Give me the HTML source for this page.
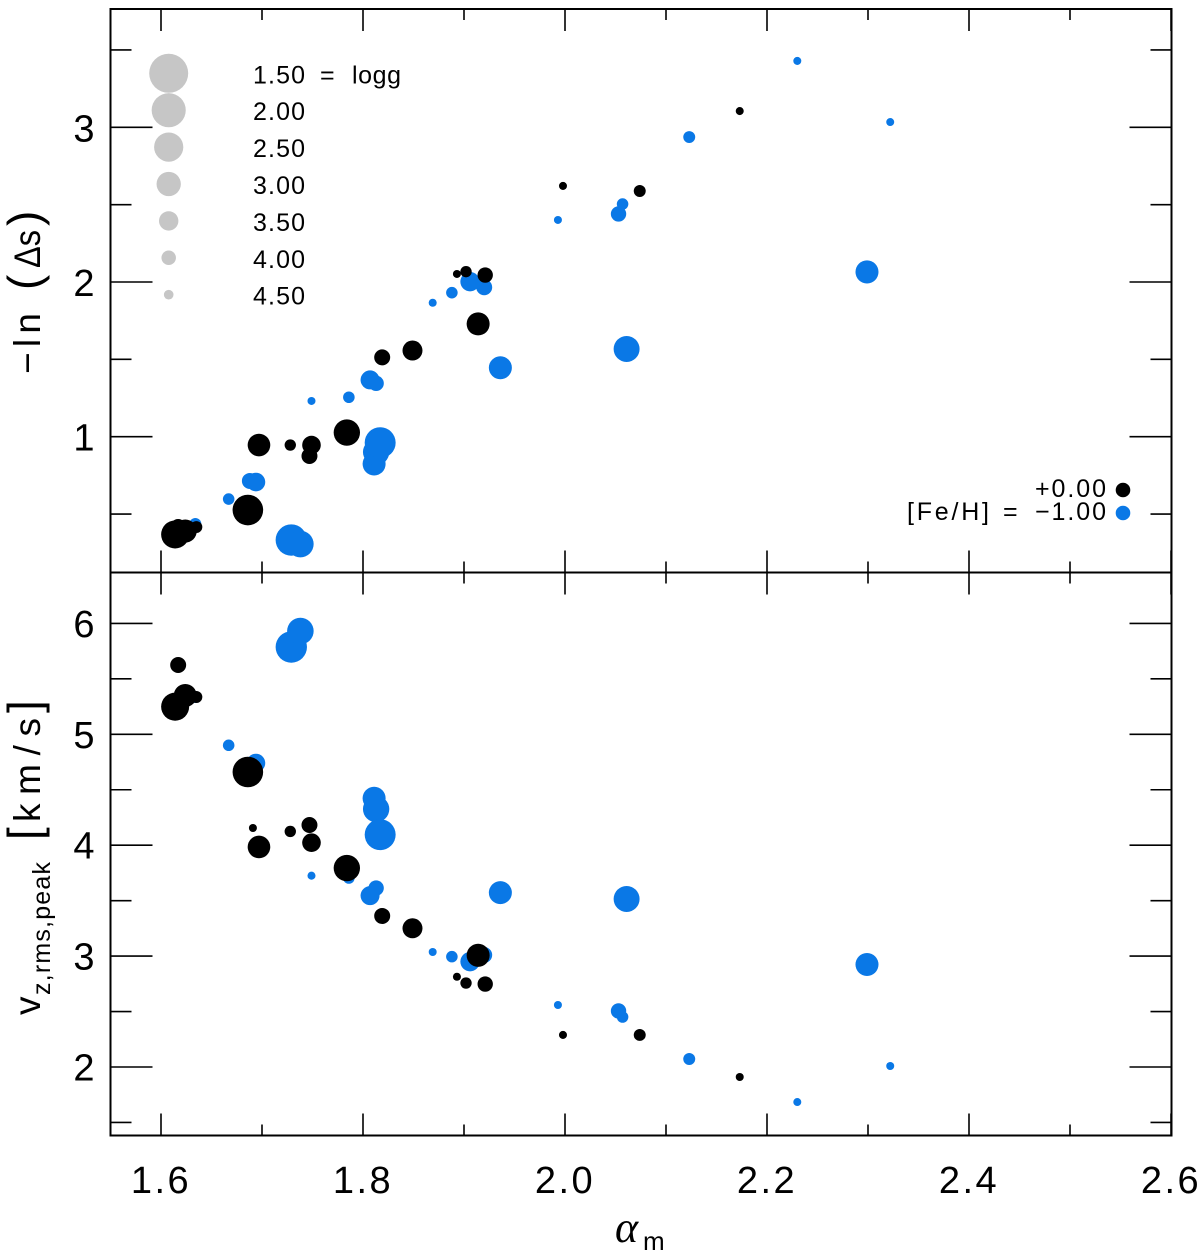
<!DOCTYPE html>
<html lang="en">
<head>
<meta charset="utf-8">
<title>Scatter panels of Δs and vz,rms,peak versus αm</title>
<style>
html,body{margin:0;padding:0;background:#fff}
svg{display:block}
text{font-family:"Liberation Sans",sans-serif;fill:#000}
</style>
</head>
<body>
<svg id="chart" xmlns="http://www.w3.org/2000/svg" width="1200" height="1255" viewBox="0 0 1200 1255">
  <rect x="0" y="0" width="1200" height="1255" fill="#fff"/>
  <g id="blue-points"></g>
  <g id="black-points"></g>
  <g id="axes"></g>
  <g id="tick-labels"></g>
  <g id="logg-legend"></g>

  <g>
    <text x="1035" y="497" font-size="25" textLength="71">+0.00</text>
    <text x="907" y="520" font-size="25" textLength="82">[Fe/H]</text>
    <text x="1003" y="520" font-size="25">=</text>
    <text x="1035" y="520" font-size="25" textLength="71">−1.00</text>
    <circle cx="1123" cy="490" r="7.3" fill="#000"/>
    <circle cx="1123" cy="513" r="7.3" fill="#0a78e6"/>
  </g>

  <g>
    <text transform="translate(40,374) rotate(-90)" font-size="37" textLength="61">−ln</text>
    <text transform="translate(40,290) rotate(-90)" font-size="46">(</text>
    <text transform="translate(40,268) rotate(-90)" font-size="37" textLength="38" lengthAdjust="spacingAndGlyphs">Δs</text>
    <text transform="translate(40,226) rotate(-90)" font-size="46">)</text>
  </g>
  <g>
    <text transform="translate(40,1015) rotate(-90)" font-size="37">v</text>
    <text transform="translate(50,995) rotate(-90)" font-size="25" textLength="133">z,rms,peak</text>
    <text transform="translate(40,840) rotate(-90)" font-size="46">[</text>
    <text transform="translate(40,822) rotate(-90)" font-size="37" textLength="104">km/s</text>
    <text transform="translate(40,713) rotate(-90)" font-size="46">]</text>
  </g>
  <g>
    <text x="615" y="1242" font-size="44" font-style="italic" style="font-family:'Liberation Serif',serif">α</text>
    <text x="643" y="1250" font-size="26">m</text>
  </g>
</svg>

<script>
// Shared data
const blackAlpha = [1.614,1.617,1.624,1.635,1.686,1.697,1.691,1.728,1.749,1.747,1.784,1.819,1.849,1.893,1.902,1.921,1.914,1.998,2.074,2.173];
const blackDeltaS = [0.368,0.416,0.390,0.416,0.526,0.946,0.526,0.946,0.946,0.875,1.027,1.513,1.557,2.052,2.067,2.045,1.729,2.621,2.588,3.105];
const blackVz = [5.249,5.625,5.350,5.336,4.660,3.984,4.155,4.124,4.023,4.182,3.794,3.362,3.251,2.814,2.757,2.748,3.007,2.289,2.289,1.910];
const blackLogg = [2.62,3.85,3.13,4.26,2.36,3.17,4.66,4.32,3.58,3.85,2.79,3.85,3.44,4.66,4.32,3.91,3.13,4.66,4.26,4.66];

const blueAlpha = [1.634,1.667,1.688,1.694,1.729,1.738,1.749,1.786,1.807,1.813,1.811,1.813,1.817,1.936,1.869,1.888,1.906,1.920,1.993,2.053,2.057,2.061,2.123,2.230,2.299,2.322];
const blueDeltaS = [0.436,0.597,0.714,0.707,0.332,0.306,1.231,1.255,1.367,1.345,0.824,0.901,0.961,1.446,1.866,1.931,2.002,1.966,2.401,2.440,2.504,1.567,2.937,3.429,2.065,3.034];
const blueVz = [5.336,4.901,4.660,4.741,5.787,5.931,3.725,3.704,3.545,3.614,4.423,4.326,4.095,3.572,3.037,2.995,2.950,3.010,2.559,2.505,2.451,3.515,2.072,1.684,2.924,2.009];
const blueLogg = [4.26,4.30,3.85,3.58,2.28,2.77,4.66,4.30,3.54,3.91,3.13,2.79,2.32,3.13,4.66,4.30,3.50,3.85,4.66,3.91,4.30,2.83,4.26,4.66,3.13,4.66];

const legendLogg = ["1.50","2.00","2.50","3.00","3.50","4.00","4.50"];

const xMajorTicks = ["1.6","1.8","2.0","2.2","2.4","2.6"];
const xMinorTicks = [1.7,1.9,2.1,2.3,2.5];
const topYMajorTicks = ["1","2","3"];
const topYMinorTicks = [0.5,1.5,2.5,3.5];
const bottomYMajorTicks = ["2","3","4","5","6"];
const bottomYMinorTicks = [1.5,2.5,3.5,4.5,5.5];

// Axis functions
const frameLeft = 110.5, frameRight = 1171.5, frameTop = 9, frameMid = 572.5, frameBottom = 1135.5;
function xScale(v){ return 161 + (v - 1.6) * 1010; }
function yTop(v){ return 436.7 - (v - 1) * 154.7; }
function yBottom(v){ return 734.3 - (v - 5) * 110.9; }
function radius(logg){ return 4.8 + 4.9 * (4.5 - logg); }

const NS = "http://www.w3.org/2000/svg";
function make(tag, parent, attrs){
  const el = document.createElementNS(NS, tag);
  for (const k in attrs) el.setAttribute(k, attrs[k]);
  parent.appendChild(el);
  return el;
}
function stroke(parent, x1, y1, x2, y2, w){
  return make("line", parent, {x1:x1, y1:y1, x2:x2, y2:y2, stroke:"#000", "stroke-width":w});
}

// Points: both panels, same alpha values
const bluePoints = document.getElementById("blue-points");
const blackPoints = document.getElementById("black-points");
blueAlpha.forEach(function(a, i){
  const top = make("circle", bluePoints, {cx:xScale(a), cy:yTop(blueDeltaS[i]), r:radius(blueLogg[i]), fill:"#0a78e6"});
  
  
  const bottom = make("circle", bluePoints, {cx:xScale(a), cy:yBottom(blueVz[i]), r:radius(blueLogg[i]), fill:"#0a78e6"});
  
  
});
blackAlpha.forEach(function(a, i){
  const top = make("circle", blackPoints, {cx:xScale(a), cy:yTop(blackDeltaS[i]), r:radius(blackLogg[i]), fill:"#000"});
  
  
  const bottom = make("circle", blackPoints, {cx:xScale(a), cy:yBottom(blackVz[i]), r:radius(blackLogg[i]), fill:"#000"});
  
  
});

// Frame and ticks
const axes = document.getElementById("axes");
const frame = make("rect", axes, {x:frameLeft, y:frameTop, width:frameRight-frameLeft, height:frameBottom-frameTop, fill:"none", stroke:"#000", "stroke-width":2});


const divider = stroke(axes, frameLeft, frameMid, frameRight, frameMid, 2);



function xTick(v, len){
  const x = xScale(v);
  [[frameTop, frameTop+len],[frameMid-len, frameMid+len],[frameBottom-len, frameBottom]].forEach(function(p){
    const t = stroke(axes, x, p[0], x, p[1], 1.6);
    
    
  });
}
function yTick(y, len){
  const l = stroke(axes, frameLeft, y, frameLeft+len, y, 1.6);
  
  
  const r = stroke(axes, frameRight-len, y, frameRight, y, 1.6);
  
  
}
xMajorTicks.forEach(function(t){ xTick(parseFloat(t), 22); });
xMinorTicks.forEach(function(t){ xTick(t, 11); });
topYMajorTicks.forEach(function(t){ yTick(yTop(parseFloat(t)), 42); });
topYMinorTicks.forEach(function(t){ yTick(yTop(t), 21); });
bottomYMajorTicks.forEach(function(t){ yTick(yBottom(parseFloat(t)), 42); });
bottomYMinorTicks.forEach(function(t){ yTick(yBottom(t), 21); });

// Tick labels
const tickLabels = document.getElementById("tick-labels");
xMajorTicks.forEach(function(t){
  const el = make("text", tickLabels, {x:xScale(parseFloat(t)), y:1193, "font-size":38, "text-anchor":"middle", "letter-spacing":"2.5"});
  el.textContent = t;
  
  
});
topYMajorTicks.forEach(function(t){
  const el = make("text", tickLabels, {x:84, y:yTop(parseFloat(t))+14, "font-size":38, "text-anchor":"middle"});
  el.textContent = t;
  
  
});
bottomYMajorTicks.forEach(function(t){
  const el = make("text", tickLabels, {x:84, y:yBottom(parseFloat(t))+13.5, "font-size":38, "text-anchor":"middle"});
  el.textContent = t;
  
  
});

// Size legend
const loggLegend = document.getElementById("logg-legend");
legendLogg.forEach(function(t, i){
  const cy = 73.3 + i * 36.9;
  const c = make("circle", loggLegend, {cx:168.7, cy:cy, r:radius(parseFloat(t)), fill:"#c6c6c6"});
  
  
  const l = make("text", loggLegend, {x:253, y:cy+10, "font-size":25, textLength:52});
  l.textContent = t;
  
  
});
const eq = make("text", loggLegend, {x:320, y:83.3, "font-size":25});
eq.textContent = "=";


const loggWord = make("text", loggLegend, {x:352, y:83.3, "font-size":25, textLength:49});
loggWord.textContent = "logg";


</script>
</body>
</html>
